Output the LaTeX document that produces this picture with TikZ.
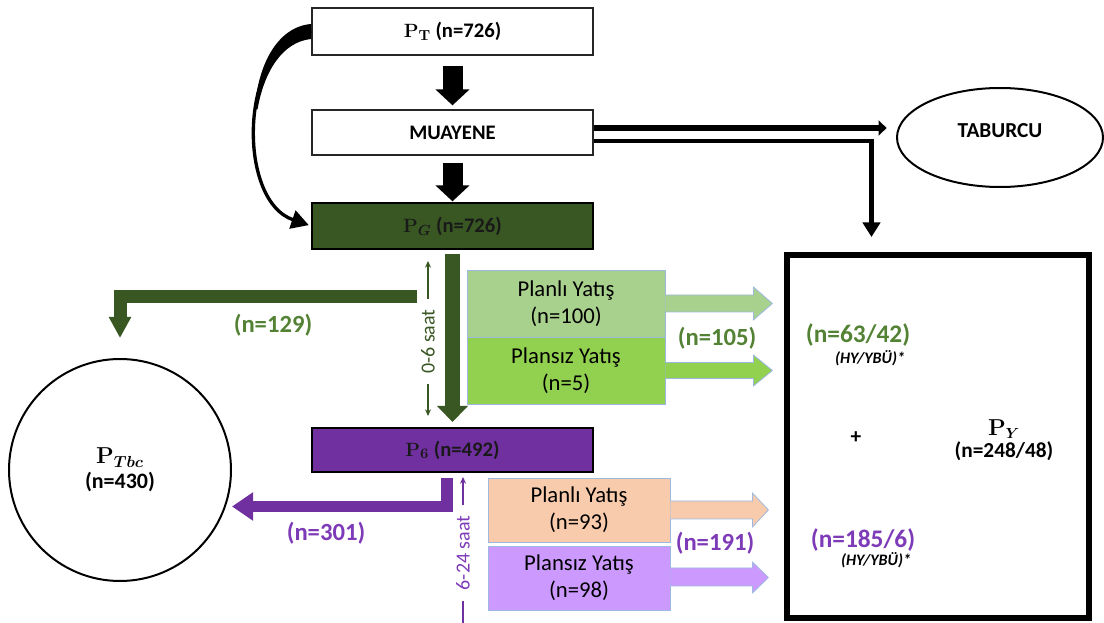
\documentclass[tikz,border=0pt]{standalone}
\usepackage[no-math]{fontspec}
\setmainfont{Carlito}
\usetikzlibrary{arrows.meta,calc,shapes.geometric}
\definecolor{dgreen}{HTML}{385723}
\definecolor{tgreen}{HTML}{548235}
\definecolor{purp}{HTML}{7030A0}
\definecolor{tpurp}{HTML}{7E3BB8}
\definecolor{lgreen}{HTML}{A9D18E}
\definecolor{bgreen}{HTML}{92D050}
\definecolor{peach}{HTML}{F8CBAD}
\definecolor{lav}{HTML}{CC99FF}
\definecolor{bordc}{HTML}{9DB9E0}
\newcommand{\PP}[1]{{\boldmath$\mathrm{P}_{#1}$}}
\begin{document}
\begin{tikzpicture}[x=0.75pt,y=-0.75pt,
  mainbox/.style={draw=black!85, line width=1pt, minimum width=210.75pt, inner sep=0pt,
    font=\bfseries\fontsize{15.5}{18}\selectfont},
  yatis/.style={draw=bordc, line width=0.6pt, inner sep=0pt, align=center,
    font=\fontsize{17}{20}\selectfont},
  cnt/.style={font=\bfseries\fontsize{18.5}{22}\selectfont},
  cntb/.style={font=\bfseries\fontsize{19}{22}\selectfont},
  saat/.style={rotate=90, fill=white, inner xsep=8pt, inner ysep=1pt,
    font=\fontsize{15}{18}\selectfont},
  hy/.style={font=\bfseries\itshape\fontsize{12}{14}\selectfont},
  blk/.style={line width=15pt, -{Triangle[length=12pt,width=25pt]}}
]
\useasboundingbox (0,0) rectangle (1104,623);

% main boxes
\node[mainbox, fill=white, minimum height=35.25pt] (PT) at (452.5,31.5) {\PP{\mathrm{T}} (n=726)};
\node[mainbox, fill=white, minimum height=33.75pt] (MU) at (452.5,132.5) {MUAYENE};
\node[mainbox, fill=dgreen, draw=black, text=black!90, minimum height=34.5pt] (PG) at (452.5,226) {\PP{G} (n=726)};
\node[mainbox, fill=purp, draw=black, text=black!90, line width=1.5pt, minimum height=33pt] (P6) at (452.5,450) {\PP{6} (n=492)};

% ellipse, circle, big box
\node[ellipse, draw, line width=1.5pt, minimum width=154.5pt, minimum height=74.25pt, inner sep=0pt,
  text depth=10pt, font=\bfseries\fontsize{16}{18}\selectfont] (TAB) at (1000,137.5) {TABURCU};
\node[circle, draw, line width=1.5pt, minimum size=166.5pt, inner sep=0pt, align=center,
  font=\bfseries\fontsize{16.5}{19}\selectfont] (TBC) at (120,470) {\PP{Tbc}\\(n=430)};
\node[draw, line width=4.5pt, minimum width=226.5pt, minimum height=272.6pt, inner sep=0pt] (PY) at (937.5,436.75) {};

% yatis boxes
\node[yatis, fill=lgreen, minimum width=148.5pt, minimum height=50.25pt] (GA) at (566,303.5) {Planlı Yatış\\(n=100)};
\node[yatis, fill=bgreen, minimum width=148.5pt, minimum height=50.25pt] (GB) at (566,370.5) {Plansız Yatış\\(n=5)};
\node[yatis, fill=peach, minimum width=136.5pt, minimum height=48pt] (PA) at (579,510) {Planlı Yatış\\(n=93)};
\node[yatis, fill=lav, minimum width=136.5pt, minimum height=48pt] (PB) at (579,578) {Plansız Yatış\\(n=98)};

\path[fill=lgreen, draw=bordc, line width=0.6pt] ($(GA.east)+(0,-8.5)$) -- ++(88,0) -- ++(0,-8) -- ++(19,16.5) -- ++(-19,16.5) -- ++(0,-8) -- ++(-88,0);
\path[fill=bgreen, draw=bordc, line width=0.6pt] ($(GB.east)+(0,-8)$) -- ++(88,0) -- ++(0,-7.5) -- ++(19,15.5) -- ++(-19,15.5) -- ++(0,-7.5) -- ++(-88,0);
\path[fill=peach, draw=bordc, line width=0.6pt] ($(PA.east)+(0,-9)$) -- ++(82,0) -- ++(0,-8) -- ++(16,17) -- ++(-16,17) -- ++(0,-8) -- ++(-82,0);
\path[fill=lav, draw=bordc, line width=0.6pt] ($(PB.east)+(0,-10)$) -- ++(82,0) -- ++(0,-6) -- ++(16,15.5) -- ++(-16,15.5) -- ++(0,-7) -- ++(-82,0);

% black block arrows
\draw[blk, shorten <=7.5pt, shorten >=3pt] (PT.south) -- (MU.north);
\draw[blk, shorten <=5.25pt, shorten >=0.75pt] (MU.south) -- (PG.north);

% curved arrow PT -> PG
\fill (311,24) .. controls (276,27) and (257,68) .. (255,109.5) -- (257.5,109.5) .. controls (264,72) and (282,42) .. (311,39) -- cycle;
\draw[line width=2.5pt, -{Triangle[length=13pt,width=14pt]}, shorten >=2pt] (PT.west) .. controls (240,40) and (235,200) .. (PG.west);

% MUAYENE outputs
\coordinate (m1) at ($(MU.east)+(0,-4.5)$);
\coordinate (m2) at ($(MU.east)+(0,8.5)$);
\draw[line width=5pt, -{Triangle[length=6pt,width=11pt]}, shorten >=7pt] (m1) -- (m1 -| TAB.west);
\draw[line width=3.5pt, -{Triangle[length=11pt,width=13pt]}, shorten >=11.25pt] (m2) -| ($(PY.north west)+(88,0)$);

% green flows
\draw[dgreen, line width=11.25pt, -{Triangle[length=12pt,width=22.5pt]}, shorten <=3pt, shorten >=3.75pt] (PG.south) -- (P6.north);
\coordinate (g0) at (417,296.5);
\draw[dgreen, line width=9.75pt, -{Triangle[length=15.75pt,width=15.75pt]}, shorten >=15pt] (g0) -| (TBC.north);

% purple flow
\coordinate (p0) at (447,478);
\coordinate (pc) at (447,506.5);
\draw[purp, line width=8.75pt, -{Triangle[length=15.75pt,width=20.25pt]}] (p0) -- (pc) -- (pc -| TBC.east);

% time markers
\coordinate (s0a) at (428,261);
\coordinate (s0b) at (428,416);
\draw[dgreen, line width=1.1pt, {Stealth[length=5pt,width=4.5pt]}-{Stealth[length=5pt,width=4.5pt]}] (s0a) -- (s0b)
  node[saat, text=dgreen, pos=0.52] {0-6 saat};
\coordinate (s1a) at (463,477);
\coordinate (s1b) at (463,623);
\draw[purp, line width=1.1pt, {Stealth[length=5pt,width=4.5pt]}-] (s1a) -- (s1b)
  node[saat, text=tpurp, pos=0.52] {6-24 saat};

% count labels
\node[cnt, text=tgreen] (c129) at (273,325) {(n=129)};
\node[cnt, text=tpurp] (c301) at (326,533) {(n=301)};
\node[cnt, text=tgreen] (c105) at (717,338) {(n=105)};
\node[cnt, text=tpurp] (c191) at (715,543) {(n=191)};
\node[cntb, text=tgreen] (c6342) at (858,335) {(n=63/42)};
\node[hy] (hy1) at (870,358) {(HY/YBÜ)*};
\node[cntb, text=tpurp] (c1856) at (863,540) {(n=185/6)};
\node[hy] (hy2) at (876,560) {(HY/YBÜ)*};
\node[font=\bfseries\fontsize{16}{18}\selectfont] (plus) at (856,438) {+};
\node[align=center, font=\bfseries\fontsize{16}{16.5}\selectfont] (PYl) at (1004,440) {\PP{Y}\\(n=248/48)};
\end{tikzpicture}
\end{document}
